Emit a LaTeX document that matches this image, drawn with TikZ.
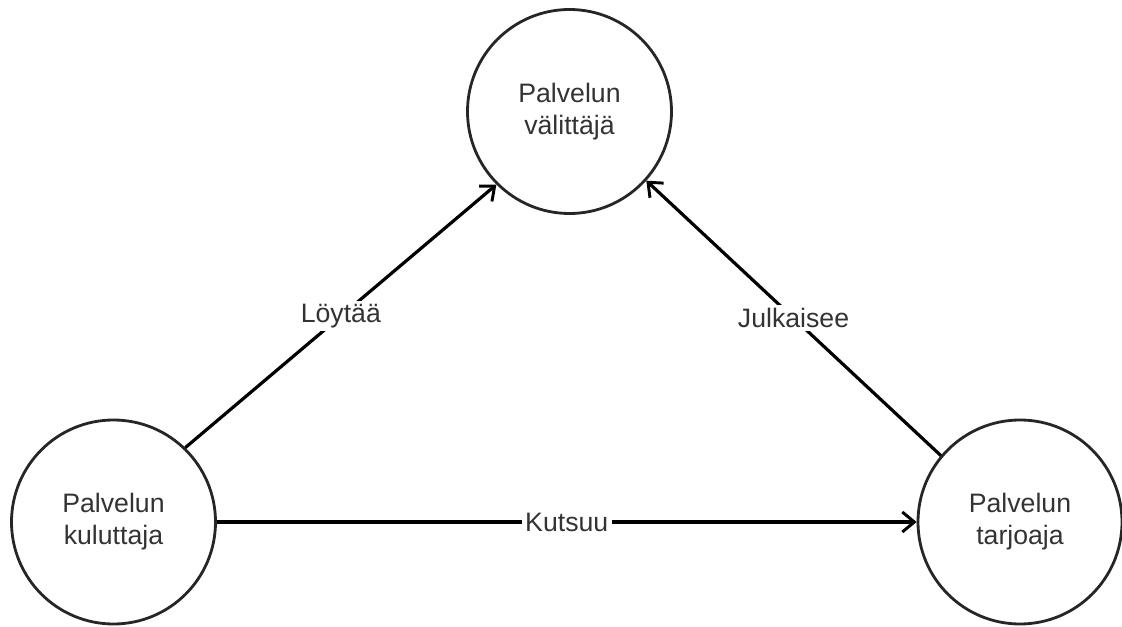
\documentclass[tikz,border=0pt]{standalone}
\usepackage{fontspec}
\setmainfont{Liberation Sans}
\usetikzlibrary{arrows.meta}
\begin{document}
\begin{tikzpicture}[x=0.75pt,y=-0.75pt,
  role/.style={circle,draw=black!85,line width=2.1pt,minimum size=153pt,inner sep=0pt,
    align=center,font=\fontsize{20}{24}\selectfont,text=black!80},
  conn/.style={line width=2.4pt,-{Straight Barb[length=9pt,width=15pt,line width=2.2pt]}},
  lbl/.style={fill=white,inner sep=2.5pt,font=\fontsize{20}{24}\selectfont,text=black!80}]
\useasboundingbox (0,0) rectangle (1122,627);
\node[role] (T) at (569.5,111.5) {Palvelun\\välittäjä};
\node[role] (L) at (113.5,522) {Palvelun\\kuluttaja};
\node[role] (R) at (1020,522) {Palvelun\\tarjoaja};
\draw[conn] (L.46) -- node[lbl] {Löytää} (T.225);
\draw[conn] (R.140) -- node[lbl] {Julkaisee} (T.-42);
\draw[conn] (L.east) -- node[lbl] {Kutsuu} (R.west);
\end{tikzpicture}
\end{document}
